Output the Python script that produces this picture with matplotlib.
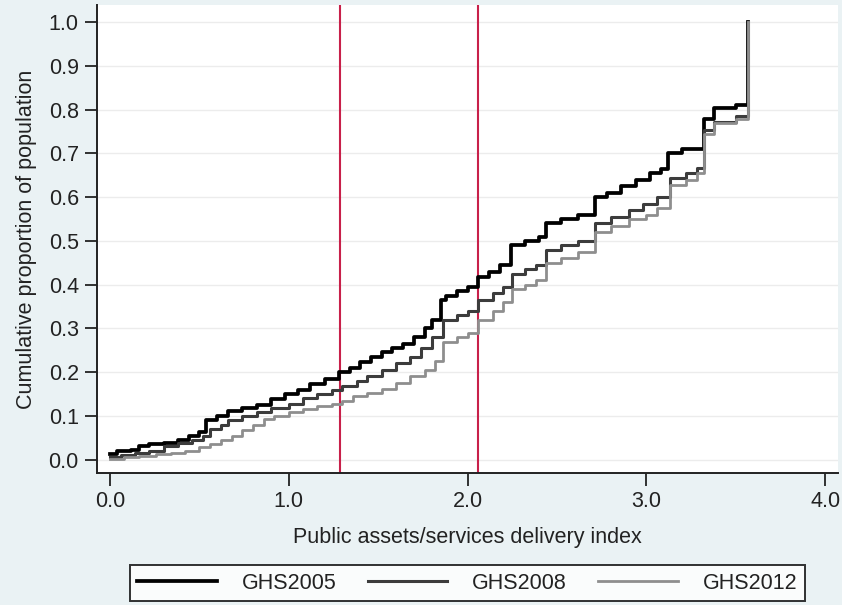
import matplotlib
matplotlib.use("Agg")
import matplotlib.pyplot as plt

plt.rcParams['font.family'] = ['Liberation Sans', 'DejaVu Sans']

# cumulative distribution readings (step points), index value -> proportion
x05 = [0.00, 0.04, 0.12, 0.16, 0.22, 0.30, 0.38, 0.44, 0.50, 0.54, 0.60, 0.66,
       0.74, 0.82, 0.90, 0.98, 1.05, 1.12, 1.20, 1.28, 1.34, 1.40, 1.46, 1.52,
       1.58, 1.64, 1.70, 1.76, 1.80, 1.85, 1.88, 1.94, 2.00, 2.06, 2.12, 2.18,
       2.24, 2.32, 2.40, 2.44, 2.52, 2.62, 2.71, 2.78, 2.86, 2.94, 3.02, 3.08,
       3.12, 3.20, 3.32, 3.38, 3.50, 3.57]
y05 = [0.012, 0.02, 0.022, 0.03, 0.035, 0.038, 0.045, 0.055, 0.062, 0.09, 0.10, 0.11,
       0.118, 0.125, 0.138, 0.15, 0.16, 0.172, 0.185, 0.20, 0.21, 0.222, 0.235, 0.245,
       0.255, 0.265, 0.28, 0.30, 0.32, 0.365, 0.375, 0.385, 0.395, 0.418, 0.43, 0.445,
       0.49, 0.50, 0.51, 0.54, 0.55, 0.56, 0.60, 0.61, 0.625, 0.64, 0.655, 0.665,
       0.70, 0.71, 0.78, 0.805, 0.812, 1.0]

x08 = [0.00, 0.06, 0.14, 0.22, 0.30, 0.38, 0.46, 0.52, 0.56, 0.62, 0.66, 0.74,
       0.82, 0.90, 1.00, 1.08, 1.16, 1.24, 1.30, 1.38, 1.44, 1.52, 1.60, 1.68,
       1.74, 1.80, 1.86, 1.94, 2.00, 2.06, 2.14, 2.20, 2.25, 2.32, 2.38, 2.44,
       2.52, 2.62, 2.71, 2.80, 2.90, 2.98, 3.06, 3.13, 3.22, 3.28, 3.32, 3.38,
       3.50, 3.57]
y08 = [0.005, 0.01, 0.015, 0.02, 0.03, 0.038, 0.045, 0.055, 0.07, 0.08, 0.09, 0.10,
       0.108, 0.118, 0.128, 0.14, 0.15, 0.158, 0.168, 0.18, 0.19, 0.205, 0.22, 0.235,
       0.255, 0.28, 0.32, 0.33, 0.34, 0.365, 0.38, 0.395, 0.425, 0.435, 0.445, 0.48,
       0.49, 0.50, 0.54, 0.555, 0.57, 0.585, 0.60, 0.643, 0.655, 0.667, 0.753, 0.772,
       0.785, 1.0]

x12 = [0.00, 0.08, 0.16, 0.26, 0.34, 0.42, 0.50, 0.56, 0.62, 0.68, 0.74, 0.80,
       0.86, 0.92, 1.00, 1.08, 1.16, 1.24, 1.30, 1.36, 1.44, 1.52, 1.60, 1.68,
       1.76, 1.82, 1.86, 1.94, 2.00, 2.06, 2.14, 2.20, 2.25, 2.32, 2.38, 2.44,
       2.52, 2.62, 2.71, 2.80, 2.90, 3.00, 3.06, 3.13, 3.22, 3.28, 3.32, 3.38,
       3.50, 3.57]
y12 = [0.002, 0.005, 0.008, 0.012, 0.016, 0.02, 0.028, 0.035, 0.045, 0.055, 0.068, 0.08,
       0.092, 0.10, 0.108, 0.115, 0.122, 0.128, 0.135, 0.145, 0.152, 0.162, 0.175, 0.19,
       0.205, 0.225, 0.27, 0.28, 0.29, 0.32, 0.34, 0.36, 0.39, 0.40, 0.41, 0.45,
       0.46, 0.475, 0.52, 0.535, 0.55, 0.56, 0.575, 0.628, 0.64, 0.655, 0.745, 0.77,
       0.78, 1.0]

labels = ['GHS2005', 'GHS2008', 'GHS2012']
cutoffs = [1.287, 2.06]

bg = '#eaf2f4'
fs = 15.5
fig = plt.figure(figsize=(8.42, 6.05), dpi=100, facecolor=bg)
ax = fig.add_axes([0.115, 0.218, 0.88, 0.774])
ax.set_facecolor('white')

for yv in [i / 10 for i in range(11)]:
    ax.axhline(yv, color='#ececec', lw=1.0, zorder=0)

for c in cutoffs:
    ax.axvline(c, color='#c8204a', lw=1.5, zorder=1)

ax.step(x05, y05, where='post', color='black', lw=2.7, label=labels[0], zorder=3)
ax.step(x08, y08, where='post', color='#3c3c3c', lw=2.2, label=labels[1], zorder=4)
ax.step(x12, y12, where='post', color='#8e8e8e', lw=2.0, label=labels[2], zorder=5)

ax.set_xlim(-0.073, 4.07)
ax.set_ylim(-0.031, 1.04)
ax.set_xticks([0, 1, 2, 3, 4])
ax.set_xticklabels(['0.0', '1.0', '2.0', '3.0', '4.0'])
ax.set_yticks([i / 10 for i in range(11)])
ax.set_yticklabels(['%.1f' % (i / 10) for i in range(11)])
ax.tick_params(direction='out', length=9, width=1.3, labelsize=fs, colors='#222222', pad=4)

for s in ['top', 'right']:
    ax.spines[s].set_visible(False)
for s in ['left', 'bottom']:
    ax.spines[s].set_linewidth(1.4)
    ax.spines[s].set_color('#222222')

ax.set_xlabel('Public assets/services delivery index', fontsize=fs, color='#222222', labelpad=11)
ax.set_ylabel('Cumulative proportion of population', fontsize=fs, color='#222222', labelpad=8)

leg = fig.legend(loc='center', bbox_to_anchor=(0.555, 0.036), ncol=3, fontsize=fs,
                 frameon=True, fancybox=False, handlelength=3.7, handletextpad=1.15,
                 columnspacing=1.45, borderpad=0.35, borderaxespad=0.0)
leg.get_frame().set_edgecolor('black')
leg.get_frame().set_linewidth(1.4)
leg.get_frame().set_facecolor('white')
for t in leg.get_texts():
    t.set_color('#222222')

fig.savefig('out.png', dpi=100, facecolor=bg)
